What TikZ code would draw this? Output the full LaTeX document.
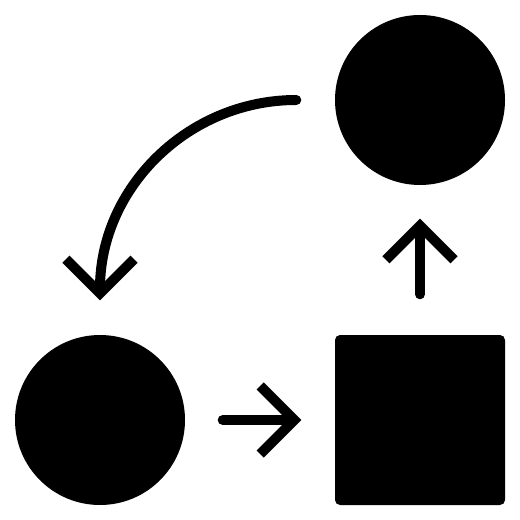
\documentclass[tikz,border=0pt]{standalone}
\usetikzlibrary{arrows.meta}
\usetikzlibrary{positioning}

\tikzset{
  blob/.style={circle, fill=black, minimum size=17mm, inner sep=0pt},
  stage/.style={rectangle, rounded corners=0.5mm, fill=black, minimum size=17mm, inner sep=0pt},
  flow/.style={line width=1mm, line cap=round, line join=round,
    -{Straight Barb[length=3.4mm,width=6.8mm]}}
}

\begin{document}
\begin{tikzpicture}[x=0.1mm,y=-0.1mm]
  \useasboundingbox (0,0) rectangle (520,520);
  % the three stages
  \node[blob] (source) at (420,100) {};
  \node[blob] (target) at (100,420) {};
  \node[stage] (proc) at (420,420) {};
  % arrow ends
  \coordinate[left=3.8mm of source.west] (bendA);
  \coordinate[above=3.4mm of target.north] (bendB);
  \coordinate[right=3.7mm of target.east] (rightA);
  \coordinate[left=3.3mm of proc.west] (rightB);
  \coordinate[above=4mm of proc.north] (upA);
  \coordinate[below=3.3mm of source.south] (upB);
  % arrows
  \draw[flow] (bendA) .. controls (188,100) and (100,188) .. (bendB);
  \draw[flow] (rightA) -- (rightB);
  \draw[flow] (upA) -- (upB);
\end{tikzpicture}
\end{document}
